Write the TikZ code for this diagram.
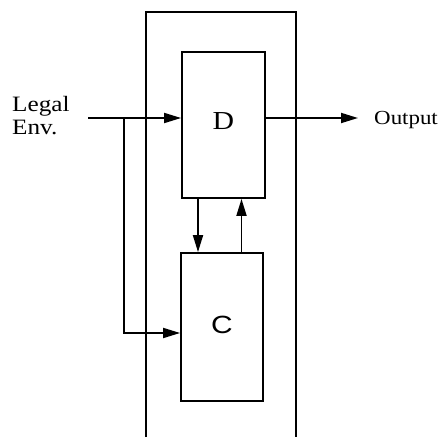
\documentclass[tikz,border=0pt]{standalone}
\usepackage{fontspec}
\setmainfont{Liberation Serif}[FakeStretch=1.15]
\newfontfamily\lettersans{Liberation Sans}[FakeStretch=1.2]
\usetikzlibrary{arrows.meta}
\begin{document}
\begin{tikzpicture}[x=1bp,y=-1bp,
  ln/.style={line width=1.8bp,line join=miter},
  arr/.style={ln,-{Triangle[length=17bp,width=10bp]}},
  box/.style={draw,ln,inner sep=0pt,minimum width=#1},
  txt/.style={inner sep=0pt,font=\fontsize{22}{26}\selectfont}]
\useasboundingbox (0,0) rectangle (438,438);
% outer frame (open at the bottom)
\draw[ln] (146,437) -- (146,12) -- (296,12) -- (296,437);
% blocks
\node[box=83bp,minimum height=146bp,
  label={[yshift=4bp,font=\fontsize{26}{30}\selectfont]center:D}] (D) at (223.5,125) {};
\node[box=82bp,minimum height=148bp,
  label={[yshift=2bp,font=\lettersans\fontsize{25}{30}\selectfont]center:C}] (C) at (222,327) {};
% texts
\node[txt,anchor=base west] (legal) at (12,112) {Legal};
\node[txt,anchor=base west] (env) at (12,135) {Env.};
\node[txt,anchor=base west,font=\fontsize{20}{24}\selectfont] (out) at (374,125) {Output};
% input connectors
\coordinate (in) at (88,118);
\coordinate (br) at (124,118);
\coordinate (cin) at (124,333);
\draw[arr] (in) -- (in -| D.west);
\draw[arr] (br) -- (cin) -- (cin -| C.west);
% feedback between D and C
\coordinate (dc) at (198,0);
\coordinate (cd) at (241.5,0);
\draw[arr] (D.south -| dc) -- (C.north -| dc);
\draw[arr] (C.north -| cd) -- (D.south -| cd);
% output
\coordinate (outend) at (358,118);
\draw[arr] (in -| D.east) -- (outend);
\end{tikzpicture}
\end{document}
